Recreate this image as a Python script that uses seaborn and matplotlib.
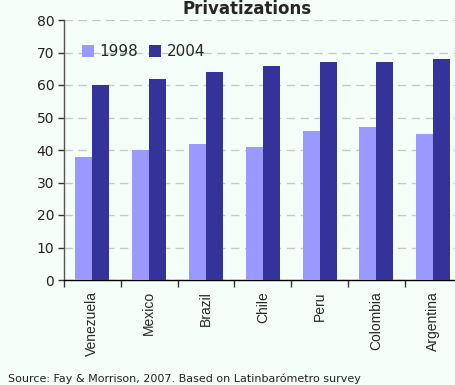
import pandas as pd
import matplotlib.pyplot as plt
import seaborn as sns

# Data
countries = ["Venezuela", "Mexico", "Brazil", "Chile", "Peru", "Colombia", "Argentina"]
years = ["1998", "2004"]
values_1998 = [38, 40, 42, 41, 46, 47, 45]
values_2004 = [60, 62, 64, 66, 67, 67, 68]

df = pd.DataFrame({
    "Country": countries * 2,
    "Year": ["1998"] * len(countries) + ["2004"] * len(countries),
    "Value": values_1998 + values_2004,
})

bg = "#F4FFF9"
sns.set_theme(style="white")
plt.rcParams["font.family"] = ["DejaVu Sans"]

fig = plt.figure(figsize=(4.56, 3.85), dpi=100, facecolor=bg)
ax = fig.add_axes([64 / 456, 1 - 280 / 385, 397.6 / 456, 260 / 385])
ax.set_facecolor(bg)

sns.barplot(data=df, x="Country", y="Value", hue="Year", hue_order=years,
            palette={"1998": "#9999FF", "2004": "#333399"}, saturation=1,
            width=0.6, gap=0, edgecolor="none", ax=ax, zorder=3)

ax.set_ylim(0, 80)
ax.set_yticks(range(0, 81, 10))
ax.set_xlim(-0.5, 6.5)
ax.yaxis.grid(True, color="#C8C8C8", linestyle=(0, (6, 4)), linewidth=1, zorder=0)
ax.set_axisbelow(True)

for s in ["top", "right"]:
    ax.spines[s].set_visible(False)
ax.spines["left"].set_color("#555555")
ax.spines["bottom"].set_color("#000000")
ax.spines["left"].set_linewidth(1)
ax.spines["bottom"].set_linewidth(1)

# category boundaries as ticks, labels at centres
ax.set_xticks([i - 0.5 for i in range(len(countries))], minor=True)
ax.tick_params(axis="x", which="minor", bottom=True, length=5, width=1,
               color="#333333", direction="out")
ax.tick_params(axis="x", which="major", bottom=False, length=0, pad=8)
ax.set_xticks(range(len(countries)))
ax.set_xticklabels(countries, rotation=90, fontsize=10, family="Liberation Sans", va="top")
ax.tick_params(axis="y", length=4, width=1, color="#333333", direction="out",
               left=True, labelsize=10, pad=3)
for t in ax.get_yticklabels():
    t.set_color("#222222")

ax.set_xlabel("")
ax.set_ylabel("")

ax.legend(loc="upper left", bbox_to_anchor=(0.03, 0.93), ncol=2, frameon=False,
          fontsize=11, handlelength=0.8, handleheight=0.8, handletextpad=0.35,
          columnspacing=0.7, borderaxespad=0)

fig.text(247 / 456, 1 - 9 / 385, "Privatizations", ha="center", va="center",
         fontsize=12, fontweight="bold")
fig.text(8 / 456, 1 - 379 / 385, "Source: Fay & Morrison, 2007. Based on Latinbarómetro survey",
         ha="left", va="center", fontsize=8.0, color="#222222")

fig.savefig("out.png", dpi=100, facecolor=bg)
